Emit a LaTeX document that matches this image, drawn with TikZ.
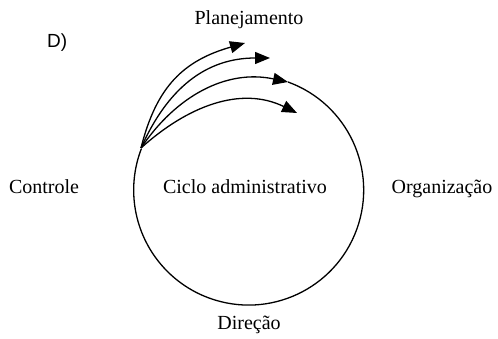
\documentclass[tikz,border=0pt]{standalone}
\usepackage{fontspec}
\setmainfont{Liberation Serif}
\newfontfamily\labelsans{Liberation Sans}
\usetikzlibrary{arrows.meta}
\begin{document}
\begin{tikzpicture}[x=1pt,y=1pt,
  lbl/.style={anchor=base,inner sep=0pt,font=\fontsize{20}{24}\selectfont},
  cyc/.style={line width=1.3pt},
  arr/.style={line width=1.3pt,-{Triangle[length=15pt,width=12pt]}}]
\useasboundingbox (0,0) rectangle (498,339);
% labels
\node[lbl] (plan) at (249,314) {Planejamento};
\node[anchor=base west,inner sep=0pt,font=\labelsans\fontsize{19}{22}\selectfont] (dlab) at (47,291) {D)};
\node[lbl] (ctrl) at (44,145) {Controle};
\node[lbl] (ciclo) at (245,145) {Ciclo administrativo};
\node[lbl] (org) at (442,145) {Organização};
\node[lbl] (dir) at (249,9) {Direção};
% points
\coordinate (S) at (141,191);
\coordinate (t1) at (245,296);
\coordinate (t2) at (270,281);
\coordinate (t3) at (288,257);
\coordinate (t4) at (297,226);
% circle (open arc)
\draw[cyc] (t3) arc[start angle=70, end angle=-201, radius=115];
% arrows
\draw[arr] (S) to[out=76,in=196,looseness=1.1] (t1);
\draw[arr] (S) to[out=66,in=180,looseness=1.05] (t2);
\draw[arr] (S) to[out=56,in=168,looseness=1.0] (t3);
\draw[arr] (S) to[out=42,in=154,looseness=1.0] (t4);
\end{tikzpicture}
\end{document}
